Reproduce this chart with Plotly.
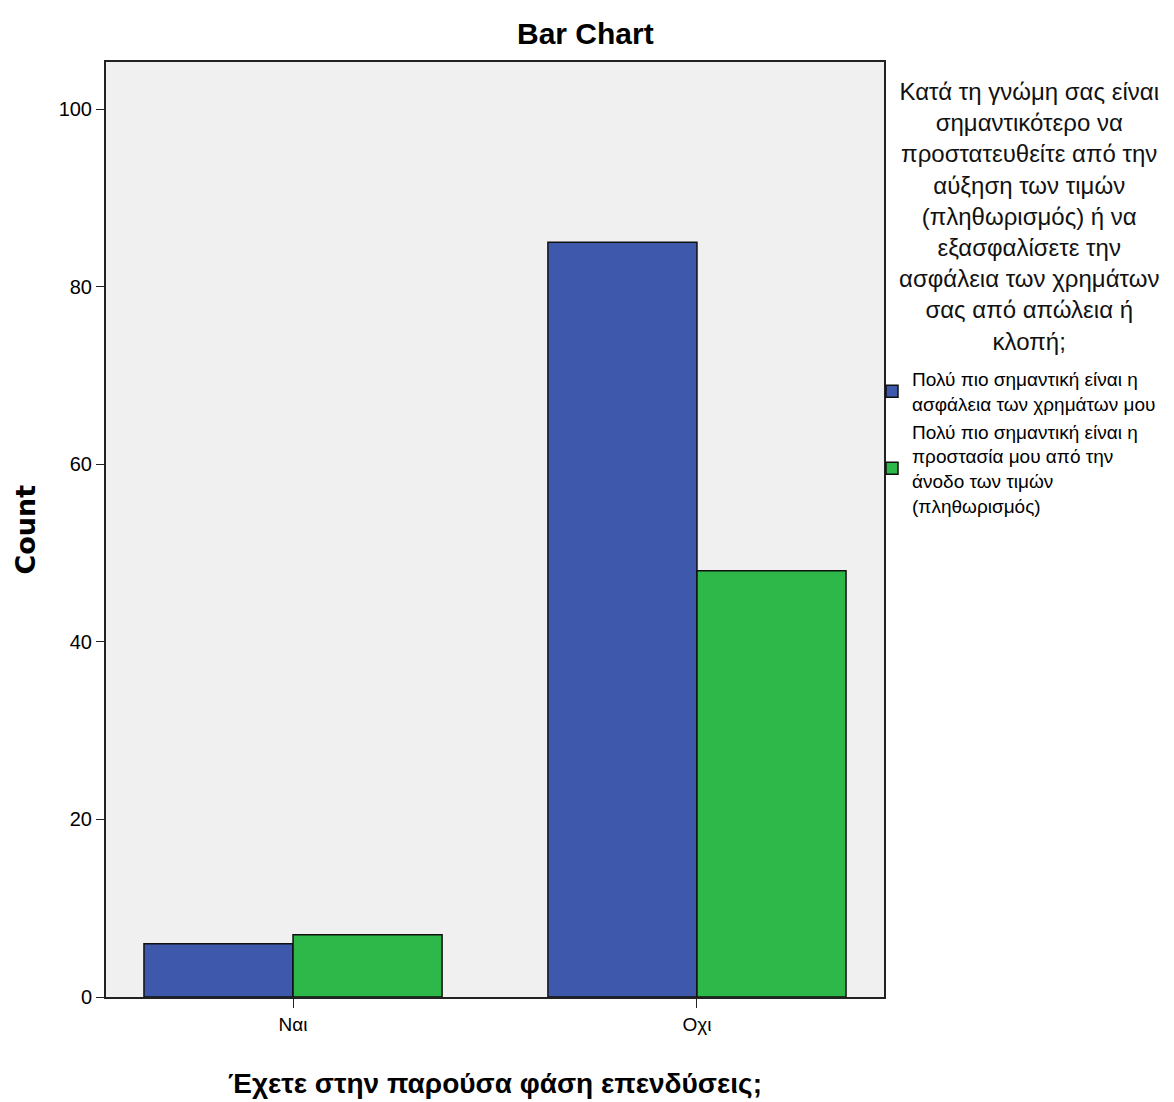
import plotly.graph_objects as go

# Categories on the x axis and counts per legend group
categories = ["Ναι", "Οχι"]
safety_counts = [6, 85]
inflation_counts = [7, 48]

series_names = [
    "Πολύ πιο σημαντική είναι η<br>ασφάλεια των χρημάτων μου",
    "Πολύ πιο σημαντική είναι η<br>προστασία μου από την<br>άνοδο των τιμών<br>(πληθωρισμός)",
]
legend_title = ("Κατά τη γνώμη σας είναι<br>σημαντικότερο να<br>προστατευθείτε από την<br>"
                "αύξηση των τιμών<br>(πληθωρισμός) ή να<br>εξασφαλίσετε την<br>"
                "ασφάλεια των χρημάτων<br>σας από απώλεια ή<br>κλοπή;")
y_ticks = [0, 20, 40, 60, 80, 100]

FONT = "Liberation Sans, Arial, sans-serif"
BLUE = "#3E58AC"
GREEN = "#2EB84A"

# page body adds an 8px margin, so lay out in (target px - 8)
OFF = 8
W, H = 1174 - OFF, 1102 - OFF
L, T = 106 - OFF, 62 - OFF
R, B = 290, 105
PW, PH = W - L - R, H - T - B


def px_x(x):
    return (x - OFF - L) / PW


def px_y(y):
    return (H - B - (y - OFF)) / PH


fig = go.Figure()
for name, vals, color in [(series_names[0], safety_counts, BLUE),
                          (series_names[1], inflation_counts, GREEN)]:
    fig.add_trace(go.Bar(
        name=name,
        x=categories,
        y=vals,
        marker=dict(color=color, line=dict(color="#111111", width=1.5)),
    ))

fig.update_layout(
    barmode="group",
    bargap=0.262,
    bargroupgap=0,
    plot_bgcolor="#F0F0F0",
    paper_bgcolor="white",
    width=W,
    height=H,
    margin=dict(l=L, r=R, t=T, b=B, autoexpand=False),
    font=dict(family=FONT, size=19, color="#000"),
    legend=dict(
        x=px_x(872), xanchor="left", y=px_y(360), yanchor="top",
        font=dict(size=19, family=FONT),
        traceorder="normal",
        tracegroupgap=2,
        bgcolor="rgba(0,0,0,0)",
    ),
    showlegend=True,
)

fig.add_annotation(
    text="<b>Bar Chart</b>", xref="paper", yref="paper",
    x=px_x(585), y=px_y(33), xanchor="center", yanchor="middle", showarrow=False,
    font=dict(size=30, family=FONT, color="#000"),
)
# legend heading, centred above the legend entries
fig.add_annotation(
    text=legend_title, xref="paper", yref="paper",
    x=px_x(1029), y=px_y(76), xanchor="center", yanchor="top",
    align="center", showarrow=False,
    font=dict(size=24, family=FONT, color="#111"),
)
# axis titles
fig.add_annotation(
    text="<b>Έχετε στην παρούσα φάση επενδύσεις;</b>", xref="paper", yref="paper",
    x=0.5, y=px_y(1083), xanchor="center", yanchor="middle", showarrow=False,
    font=dict(size=28, family=FONT, color="#000"),
)
fig.add_annotation(
    text="<b>Count</b>", xref="paper", yref="paper",
    x=px_x(25), y=0.5, xanchor="center", yanchor="middle", showarrow=False,
    textangle=-90,
    font=dict(size=27, family="DejaVu Sans, Verdana, sans-serif", color="#000"),
)

fig.update_xaxes(
    range=[-0.463, 1.463],
    automargin=False,
    showline=True, linecolor="#222", linewidth=2, mirror=True,
    ticks="outside", ticklen=9, tickcolor="#222",
    tickfont=dict(size=19),
    showgrid=False,
)
fig.update_yaxes(
    range=[0, 105.3],
    automargin=False,
    tickvals=y_ticks,
    showline=True, linecolor="#222", linewidth=2, mirror=True,
    ticks="outside", ticklen=8, tickcolor="#222",
    tickfont=dict(size=20),
    showgrid=False, zeroline=False,
)

fig.write_html("out.html")
